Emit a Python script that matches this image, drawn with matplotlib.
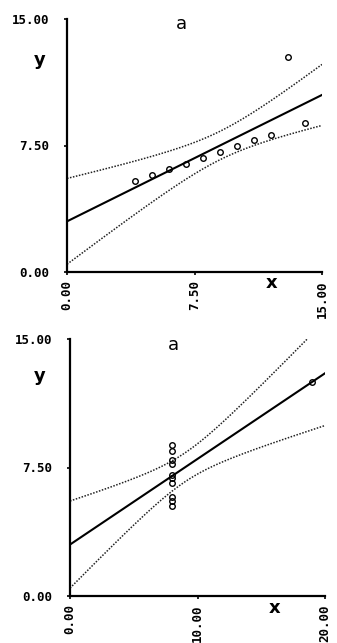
import numpy as np
import matplotlib
matplotlib.use("Agg")
import matplotlib.pyplot as plt

# Anscombe's quartet, sets III and IV
x3 = [10, 8, 13, 9, 11, 14, 6, 4, 12, 7, 5]
y3 = [7.46, 6.77, 12.74, 7.11, 7.81, 8.84, 6.08, 5.39, 8.15, 6.42, 5.73]
x4 = [8, 8, 8, 8, 8, 8, 8, 19, 8, 8, 8]
y4 = [6.58, 5.76, 7.71, 8.84, 8.47, 7.04, 5.25, 12.50, 5.56, 7.91, 6.89]

xlim3, xticks3, xtl3 = (0, 15), [0, 7.5, 15], ["0.00", "7.50", "15.00"]
xlim4, xticks4, xtl4 = (0, 20), [0, 10, 20], ["0.00", "10.00", "20.00"]
yticks, ytl = [0, 7.5, 15], ["0.00", "7.50", "15.00"]
T975_9 = 2.262  # t quantile, 9 degrees of freedom

fig = plt.figure(figsize=(3.37, 6.43), dpi=100)
tick_font = dict(family="DejaVu Sans Mono", weight="bold", size=9)


def panel(rect, x, y, xlim, xticks, xtl, ylab_pos, xlab_pos, a_pos):
    ax = fig.add_axes(rect)
    x = np.asarray(x, float)
    y = np.asarray(y, float)
    n = len(x)
    b, a = np.polyfit(x, y, 1)
    resid = y - (a + b * x)
    s = np.sqrt(np.sum(resid ** 2) / (n - 2))
    xm = x.mean()
    sxx = np.sum((x - xm) ** 2)
    xs = np.linspace(xlim[0], xlim[1], 300)
    fit = a + b * xs
    se = s * np.sqrt(1 / n + (xs - xm) ** 2 / sxx)
    ax.plot(xs, fit, color="black", lw=1.5)
    ax.plot(xs, fit + T975_9 * se, color="#222222", lw=1.1, ls=(0, (1, 1)))
    ax.plot(xs, fit - T975_9 * se, color="#222222", lw=1.1, ls=(0, (1, 1)))
    ax.plot(x, y, "o", ms=4, mfc="none", mec="black", mew=1.0)
    ax.set_xlim(*xlim)
    ax.set_ylim(0, 15)
    for side in ("top", "right"):
        ax.spines[side].set_visible(False)
    for side in ("left", "bottom"):
        ax.spines[side].set_linewidth(1.6)
    ax.set_xticks(xticks)
    ax.set_xticklabels(xtl, rotation=90, **tick_font)
    ax.set_yticks(yticks)
    ax.set_yticklabels(ytl, **tick_font)
    ax.tick_params(length=2, width=1.2)
    ax.tick_params(axis="x", pad=4)
    ax.tick_params(axis="y", pad=11)
    ax.patch.set_alpha(0)
    fig.text(*ylab_pos, "y", fontsize=13, weight="bold", ha="center", va="center")
    fig.text(*xlab_pos, "x", fontsize=13, weight="bold", ha="center", va="center")
    fig.text(*a_pos, "a", fontsize=13, ha="center", va="center")
    return ax


W, H = 337, 643
panel([67 / W, 1 - 272 / H, 255 / W, 253 / H], x3, y3, xlim3, xticks3, xtl3,
      (40 / W, 1 - 60 / H), (272 / W, 1 - 283 / H), (181 / W, 1 - 24 / H))
panel([70 / W, 1 - 596 / H, 255 / W, 257 / H], x4, y4, xlim4, xticks4, xtl4,
      (40 / W, 1 - 376 / H), (275 / W, 1 - 608 / H), (173 / W, 1 - 345 / H))

fig.savefig("out.png", dpi=100)
